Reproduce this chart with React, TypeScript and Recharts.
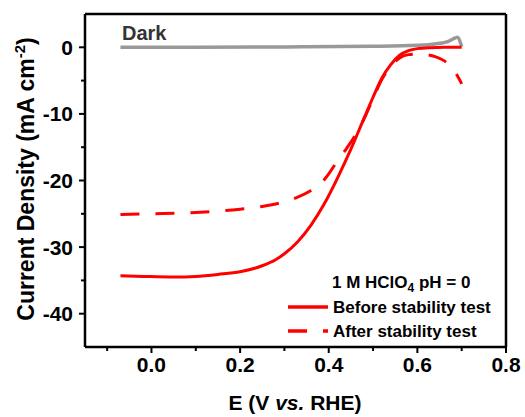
import { LineChart, Line, XAxis, YAxis, ReferenceLine, Legend } from "recharts";

const FONT = "'Liberation Sans', Arial, Helvetica, sans-serif";

// E (V vs. RHE) / current density (mA cm-2)
const potBefore = [-0.07, -0.02, 0.05, 0.1, 0.15, 0.2, 0.25, 0.28, 0.3, 0.33, 0.36, 0.39, 0.42, 0.45, 0.48, 0.5, 0.52, 0.54, 0.56, 0.58, 0.6, 0.63, 0.66, 0.7];
const jBefore = [-34.3, -34.4, -34.5, -34.4, -34.1, -33.7, -32.8, -31.9, -31.0, -29.2, -26.7, -23.5, -19.6, -15.3, -10.6, -7.5, -4.6, -2.6, -1.2, -0.5, -0.2, -0.05, 0, 0];

const potAfter = [-0.07, 0.0, 0.1, 0.2, 0.25, 0.3, 0.33, 0.36, 0.38, 0.4, 0.42, 0.44, 0.46, 0.48, 0.5, 0.52, 0.54, 0.56, 0.58, 0.6, 0.62, 0.64, 0.66, 0.68, 0.7];
const jAfter = [-25.1, -25.0, -24.8, -24.3, -23.9, -23.2, -22.5, -21.5, -20.6, -19.0, -17.0, -15.2, -13.2, -10.7, -7.7, -4.8, -2.8, -1.6, -1.1, -1.0, -1.1, -1.4, -2.0, -3.2, -5.5];

const potDark = [-0.07, 0.1, 0.3, 0.5, 0.6, 0.64, 0.67, 0.685, 0.69, 0.7];
const jDark = [0, 0, 0.05, 0.15, 0.3, 0.5, 0.9, 1.4, 1.5, 0.1];

const xTicks = [-0.1, 0, 0.1, 0.2, 0.3, 0.4, 0.5, 0.6, 0.7, 0.8];
const xMajor = [0, 0.2, 0.4, 0.6, 0.8];
const yTicks = [-40, -35, -30, -25, -20, -15, -10, -5, 0];
const yMajor = [-40, -30, -20, -10, 0];

const legendOrder = ["Before stability test", "After stability test"];

const toPoints = (xs: number[], ys: number[]) => xs.map((x, i) => ({ x, y: ys[i] }));

const before = toPoints(potBefore, jBefore);
const after = toPoints(potAfter, jAfter);
const dark = toPoints(potDark, jDark);

const TICK_SIZE = 6;
const TICK_MARGIN = 4;

function XTick(props: any) {
  const { x, y, payload } = props;
  const v = payload.value as number;
  const major = xMajor.includes(v);
  const axisY = y - TICK_SIZE - TICK_MARGIN;
  return (
    <g>
      <line x1={x} x2={x} y1={axisY} y2={axisY + (major ? 6 : 4)} stroke="#000" strokeWidth={2} />
      {major && (
        <text x={x} y={y} dy="0.71em" textAnchor="middle" fontFamily={FONT} fontWeight="bold" fontSize={21} fill="#000">
          {v.toFixed(1)}
        </text>
      )}
    </g>
  );
}

function YTick(props: any) {
  const { x, y, payload } = props;
  const v = payload.value as number;
  const major = yMajor.includes(v);
  const axisX = x + TICK_SIZE + TICK_MARGIN;
  return (
    <g>
      <line x1={axisX} x2={axisX - (major ? 6 : 4)} y1={y} y2={y} stroke="#000" strokeWidth={2} />
      {major && (
        <text x={x - 2} y={y} dy="0.355em" textAnchor="end" fontFamily={FONT} fontWeight="bold" fontSize={21} fill="#000">
          {v}
        </text>
      )}
    </g>
  );
}

function LegendBox(props: any) {
  const items = ((props.payload || []) as any[])
    .filter((it) => legendOrder.includes(it.value))
    .sort((a, b) => legendOrder.indexOf(a.value) - legendOrder.indexOf(b.value));
  return (
    <svg width={235} height={80} style={{ display: "block" }}>
      <text x={52} y={23} fontFamily={FONT} fontWeight="bold" fontSize={17} fill="#000">
        1 M HClO<tspan fontSize={12} dy={4}>4</tspan>
        <tspan dy={-4}> pH = 0</tspan>
      </text>
      {items.map((it, i) => {
        const rowY = 42 + i * 24;
        return (
          <g key={it.value}>
            <line
              x1={8}
              x2={48}
              y1={rowY}
              y2={rowY}
              stroke={it.color}
              strokeWidth={3.5}
              strokeDasharray={it.payload?.strokeDasharray}
            />
            <text x={53} y={rowY + 6} fontFamily={FONT} fontWeight="bold" fontSize={17} fill="#000">
              {it.value}
            </text>
          </g>
        );
      })}
    </svg>
  );
}

export default function App() {
  return (
    <div style={{ position: "absolute", left: 0, top: 0, width: 525, height: 417, background: "#fff" }}>
      <LineChart width={525} height={417} margin={{ top: 14, right: 19, bottom: 30, left: 25 }}>
        <XAxis
          dataKey="x"
          type="number"
          domain={[-0.15, 0.8]}
          allowDataOverflow
          ticks={xTicks}
          interval={0}
          height={40}
          tickSize={TICK_SIZE}
          tickMargin={TICK_MARGIN}
          tickLine={false}
          tick={<XTick />}
          axisLine={{ stroke: "#000", strokeWidth: 2.5 }}
        />
        <YAxis
          dataKey="y"
          type="number"
          domain={[-45, 5]}
          allowDataOverflow
          ticks={yTicks}
          interval={0}
          width={60}
          tickSize={TICK_SIZE}
          tickMargin={TICK_MARGIN}
          tickLine={false}
          tick={<YTick />}
          axisLine={{ stroke: "#000", strokeWidth: 2.5 }}
        />
        <ReferenceLine y={5} stroke="#000" strokeWidth={2.5} />
        <ReferenceLine x={0.8} stroke="#000" strokeWidth={2.5} />
        <Line
          data={dark}
          dataKey="y"
          name="Dark"
          type="monotone"
          stroke="#999999"
          strokeWidth={3.5}
          dot={false}
          legendType="none"
          isAnimationActive={false}
        />
        <Line
          data={before}
          dataKey="y"
          name="Before stability test"
          type="monotone"
          stroke="#ff0000"
          strokeWidth={3}
          dot={false}
          isAnimationActive={false}
        />
        <Line
          data={after}
          dataKey="y"
          name="After stability test"
          type="monotone"
          stroke="#ff0000"
          strokeWidth={3}
          strokeDasharray="19 16"
          dot={false}
          isAnimationActive={false}
        />
        <Legend
          layout="horizontal"
          verticalAlign="middle"
          align="center"
          content={<LegendBox />}
          wrapperStyle={{ left: 280, top: 265, width: 235, height: 80 }}
        />
      </LineChart>
      <svg
        width={525}
        height={417}
        style={{ position: "absolute", left: 0, top: 0, pointerEvents: "none" }}
      >
        <text x={122} y={40} fontFamily={FONT} fontWeight="bold" fontSize={20} fill="#333">
          Dark
        </text>
        <text x={295} y={410} textAnchor="middle" fontFamily={FONT} fontWeight="bold" fontSize={21} fill="#000">
          E (V <tspan fontStyle="italic">vs.</tspan> RHE)
        </text>
        <text
          transform="translate(34,179) rotate(-90)"
          textAnchor="middle"
          fontFamily={FONT}
          fontWeight="bold"
          fontSize={23}
          fill="#000"
        >
          Current Density (mA cm<tspan fontSize={15} dy={-9}>-2</tspan>
          <tspan dy={9}>)</tspan>
        </text>
      </svg>
    </div>
  );
}
